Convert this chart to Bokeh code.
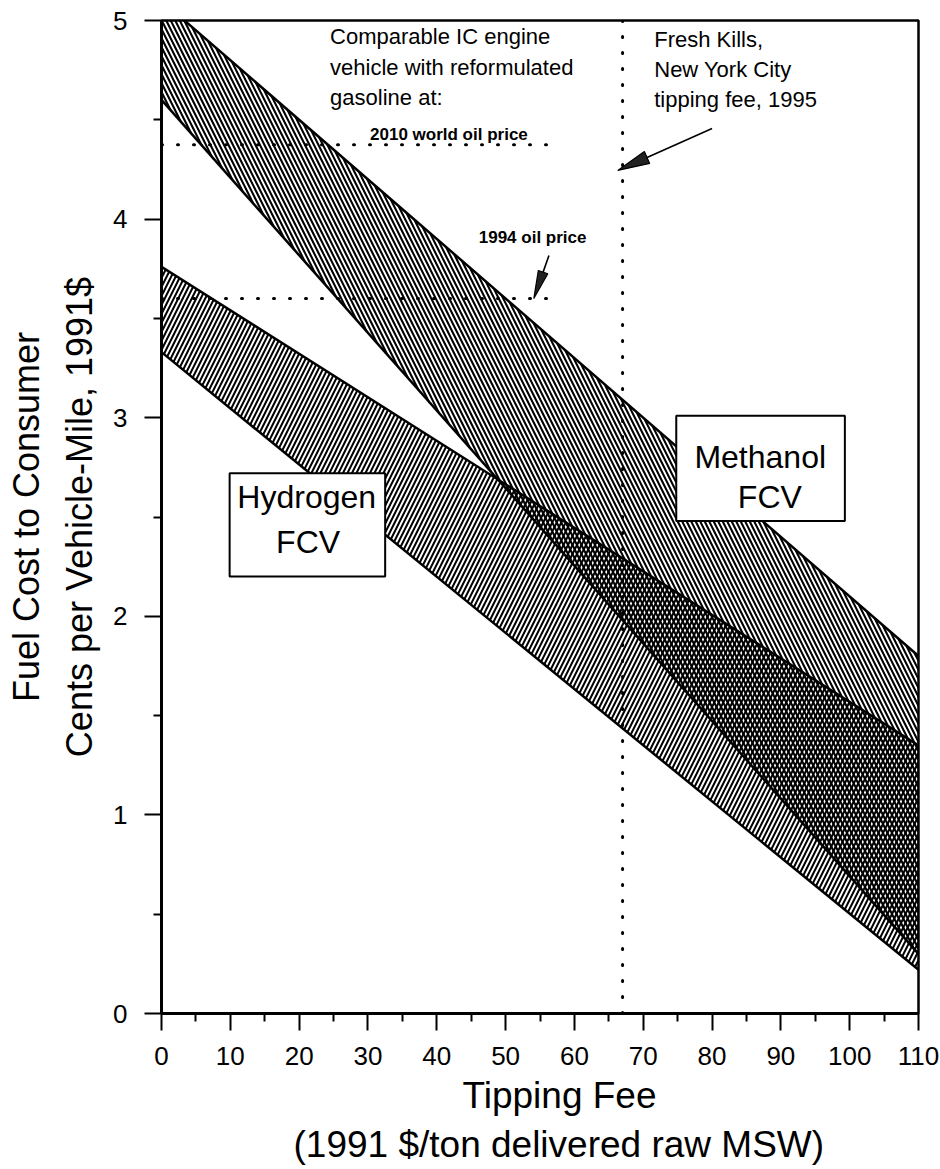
import math
from bokeh.plotting import figure
from bokeh.models import FixedTicker, Label, Range1d, Title
from bokeh.embed import file_html
from bokeh.resources import INLINE

# ---------------- data ----------------
fee = [0, 110]                      # tipping fee, 1991 $/ton
methanol_high = [5.10, 1.80]        # cents per vehicle-mile
methanol_low = [4.60, 0.30]
hydrogen_high = [3.76, 1.35]
hydrogen_low = [3.33, 0.22]

oil_2010 = 4.375                    # comparable ICE, 2010 world oil price
oil_1994 = 3.60                     # comparable ICE, 1994 oil price
oil_fee_span = [0, 56]
fresh_kills_fee = 67                # NYC tipping fee 1995

x_ticks = [0, 10, 20, 30, 40, 50, 60, 70, 80, 90, 100, 110]
x_minor = [5, 15, 25, 35, 45, 55, 65, 75, 85, 95, 105]
y_ticks = [0, 1, 2, 3, 4, 5]
y_minor = [0.5, 1.5, 2.5, 3.5, 4.5]

x_title = ["Tipping Fee", "(1991 $/ton delivered raw MSW)"]
y_title = "Fuel Cost to Consumer\nCents per Vehicle-Mile, 1991$"

FONT = "Liberation Sans"

p = figure(width=940, height=1169, x_range=Range1d(0, 110), y_range=Range1d(0, 5),
           output_backend="svg", toolbar_location=None,
           min_border_left=161, min_border_right=22, min_border_top=20, min_border_bottom=156)
p.background_fill_color = "white"
p.border_fill_color = "white"
p.xgrid.visible = False
p.ygrid.visible = False
p.outline_line_color = "black"
p.outline_line_width = 2.5

p.xaxis.ticker = FixedTicker(ticks=x_ticks, minor_ticks=x_minor)
p.yaxis.ticker = FixedTicker(ticks=y_ticks, minor_ticks=y_minor)
for ax in (p.xaxis, p.yaxis):
    ax.axis_line_width = 3
    ax.axis_line_color = "black"
    ax.major_tick_out = 17
    ax.major_tick_in = 0
    ax.minor_tick_out = 8
    ax.minor_tick_in = 0
    ax.major_tick_line_width = 2
    ax.minor_tick_line_width = 2
    ax.major_tick_line_color = "black"
    ax.minor_tick_line_color = "black"
    ax.major_label_text_font = FONT
    ax.major_label_text_font_size = "26px"
    ax.major_label_text_color = "black"
    ax.axis_label_text_font = FONT
    ax.axis_label_text_font_size = "36px"
    ax.axis_label_text_font_style = "normal"
    ax.axis_label_text_color = "black"
    ax.axis_label_text_line_height = 1.3

p.xaxis.major_label_standoff = 16
p.yaxis.major_label_standoff = 17
p.yaxis.axis_label = y_title
p.yaxis.axis_label_standoff = 10

# x-axis title as two lines below the tick labels (placed slightly right of centre, as in the original)
title_offsets = [301, 132]
title_standoffs = [10, 2]
for txt, off, so in zip(x_title, title_offsets, title_standoffs):
    p.add_layout(Title(text=txt, align="left", offset=off, text_font=FONT,
                       text_font_size="37px", text_font_style="normal",
                       text_color="black", standoff=so), "below")

# ---------------- reference lines (dotted) ----------------
dot = dict(line_color="black", line_width=3, line_dash="1 15", line_cap="round")
p.line(oil_fee_span, [oil_2010, oil_2010], **dot)
p.line(oil_fee_span, [oil_1994, oil_1994], **dot)
p.line([fresh_kills_fee, fresh_kills_fee], [0, 5], **dot)

# ---------------- bands ----------------
p.varea(x=fee, y1=methanol_low, y2=methanol_high, fill_alpha=0,
        hatch_pattern="\\", hatch_color="black", hatch_scale=9, hatch_weight=2.1)
p.varea(x=fee, y1=hydrogen_low, y2=hydrogen_high, fill_alpha=0,
        hatch_pattern="/", hatch_color="black", hatch_scale=9, hatch_weight=2.0)
for ys in (methanol_high, methanol_low, hydrogen_high, hydrogen_low):
    p.line(fee, ys, line_color="black", line_width=2.5)

# ---------------- label boxes ----------------
p.quad(left=[74.8], right=[99.3], bottom=[2.48], top=[3.01],
       fill_color="white", line_color="black", line_width=2)
p.quad(left=[9.9], right=[32.5], bottom=[2.20], top=[2.72],
       fill_color="white", line_color="black", line_width=2)

def lab(x, y, text, size, align="left", baseline="alphabetic", style="normal", lh=1.2):
    p.add_layout(Label(x=x, y=y, text=text, text_font=FONT, text_font_size=size,
                       text_align=align, text_baseline=baseline, text_font_style=style,
                       text_color="black", text_line_height=lh))

lab(87.0, 2.80, "Methanol", "32px", align="center")
lab(88.4, 2.60, "FCV", "32px", align="center")
lab(21.1, 2.60, "Hydrogen", "32px", align="center")
lab(21.3, 2.375, "FCV", "32px", align="center")

lab(24.5, 4.98, "Comparable IC engine\nvehicle with reformulated\ngasoline at:", "22px",
    baseline="top", lh=1.22)
lab(30.3, 4.427, "2010 world oil price", "17px", style="bold")
lab(46.1, 3.908, "1994 oil price", "17px", style="bold")
lab(71.6, 4.965, "Fresh Kills,\nNew York City\ntipping fee, 1995", "22px",
    baseline="top", lh=1.2)

# ---------------- arrows ----------------
SX, SY = 6.88, 198.6   # approx px per data unit

def arrow(tail, head, L=30, W=11):
    dx = (head[0] - tail[0]) * SX
    dy = (head[1] - tail[1]) * SY
    n = math.hypot(dx, dy)
    ux, uy = dx / n, dy / n
    bx, by = head[0] - ux * L / SX, head[1] - uy * L / SY
    px, py = -uy, ux
    c1 = (bx + px * W / 2 / SX, by + py * W / 2 / SY)
    c2 = (bx - px * W / 2 / SX, by - py * W / 2 / SY)
    p.segment(x0=[tail[0]], y0=[tail[1]], x1=[bx], y1=[by], line_color="black", line_width=1.6)
    p.patch(x=[head[0], c1[0], c2[0]], y=[head[1], c1[1], c2[1]],
            fill_color="#222222", line_color="black", line_width=1.2)

arrow((80.0, 4.456), (66.3, 4.245), L=32, W=13)
arrow((56.3, 3.817), (54.1, 3.600), L=28, W=10)

open("out.html", "w").write(file_html(p, INLINE))
